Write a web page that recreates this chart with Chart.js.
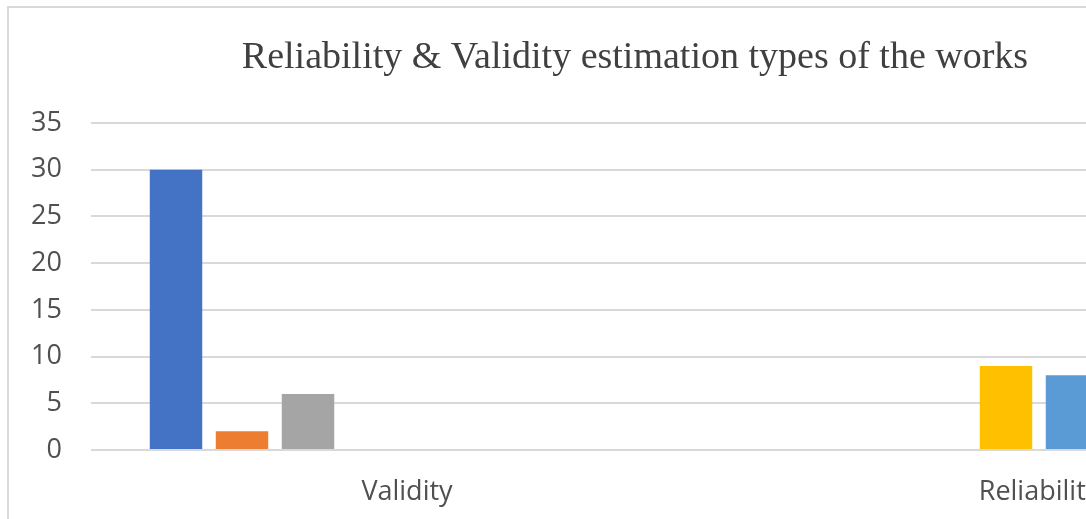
<!DOCTYPE html>
<html>
<head>
<meta charset="utf-8">
<script src="https://cdn.jsdelivr.net/npm/chart.js@4"></script>
<style>
  html, body { margin: 0; padding: 0; background: #ffffff; overflow: hidden; width: 1086px; height: 519px; }
  #frame { position: absolute; left: 7px; top: 6px; width: 2000px; height: 2000px;
           border-left: 2px solid #d9d9d9; border-top: 2px solid #d9d9d9; box-sizing: border-box; }
  #wrap { position: absolute; left: -85px; top: 0; width: 1440px; height: 519px; }
</style>
</head>
<body>
<div id="frame"></div>
<div id="wrap"><canvas id="c"></canvas></div>
<script>
const titleText = 'Reliability & Validity estimation types of the works';
const categories = ['Validity', 'Reliability'];
const seriesNames = ['Series 1', 'Series 2', 'Series 3', 'Series 4', 'Series 5', 'Series 6', 'Series 7', 'Series 8'];
const series1 = [30, 0];
const series2 = [2, 0];
const series3 = [6, 0];
const series4 = [0, 9];
const series5 = [0, 8];
const series6 = [0, null];
const series7 = [0, null];
const series8 = [0, null];
const yMin = 0, yMax = 35, yStep = 5;

const seriesValues = [series1, series2, series3, series4, series5, series6, series7, series8];
const colors = ['#4472C4', '#ED7D31', '#A5A5A5', '#FFC000', '#5B9BD5', '#70AD47', '#264478', '#9E480E'];

new Chart(document.getElementById('c'), {
  type: 'bar',
  data: {
    labels: categories,
    datasets: seriesValues.map((v, i) => ({
      label: seriesNames[i],
      data: v,
      backgroundColor: colors[i],
      borderWidth: 0,
      categoryPercentage: 0.8354,
      barPercentage: 0.795
    }))
  },
  options: {
    responsive: true,
    maintainAspectRatio: false,
    animation: false,
    devicePixelRatio: 1,
    layout: { padding: 0 },
    plugins: {
      legend: { display: false },
      tooltip: { enabled: false },
      title: {
        display: true,
        text: titleText,
        color: '#404040',
        font: { family: "'Liberation Serif', serif", size: 38, weight: 'normal', lineHeight: 1.2 },
        padding: { top: 35, bottom: 42.4 }
      }
    },
    scales: {
      x: {
        grid: { display: false, drawTicks: false },
        border: { display: false },
        ticks: { color: '#505050', font: { family: "'Open Sans', sans-serif", size: 27 }, padding: 26, maxRotation: 0 },
        afterFit: (s) => { s.height = 69; }
      },
      y: {
        min: yMin, max: yMax,
        grid: { color: '#d9d9d9', lineWidth: 2, drawTicks: false },
        border: { display: false },
        ticks: { stepSize: yStep, color: '#505050', font: { family: "'Open Sans', sans-serif", size: 27 }, padding: 29 },
        afterFit: (s) => { s.width = 176; }
      }
    }
  }
});
</script>
</body>
</html>
